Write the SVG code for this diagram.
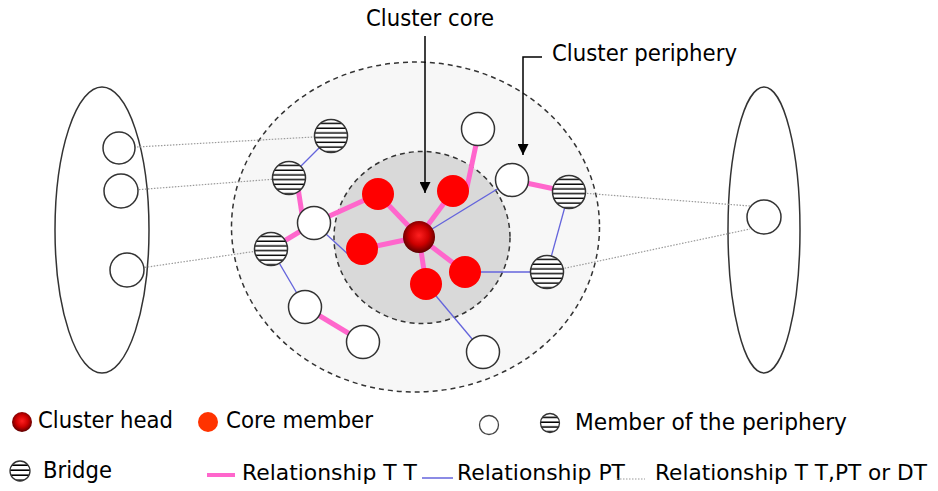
<svg xmlns="http://www.w3.org/2000/svg" width="938" height="491" viewBox="0 0 938 491">
  <style>
    .lbl { font-family: "DejaVu Sans", Verdana, sans-serif; font-size: 23px; fill: #000; }
    .lbl-s { font-family: "DejaVu Sans", Verdana, sans-serif; font-size: 22px; fill: #000; }
    .member { fill: #fff; stroke: #333; stroke-width: 1.5; }
    .bridge { fill: url(#stripes); stroke: #333; stroke-width: 1.5; }
    .bridge-s { fill: url(#stripesSmall); stroke: #333; stroke-width: 1.3; }
    .core { fill: #ff0000; }
    .head { fill: url(#headGrad); }
    .tt { stroke: #ff66cc; stroke-width: 5; stroke-linecap: butt; fill: none; }
    .pt { stroke: #6464dc; stroke-width: 1.3; fill: none; }
    .any { stroke: #9a9a9a; stroke-width: 1.2; stroke-dasharray: 1.5 1.5; fill: none; }
    .group { fill: #fff; stroke: #333; stroke-width: 1.5; }
    .pointer { stroke: #000; stroke-width: 1.5; fill: none; }
  </style>
  <defs>
    <pattern id="stripes" patternUnits="objectBoundingBox" patternContentUnits="objectBoundingBox" width="1" height="0.142857">
      <rect x="0" y="0" width="1" height="0.142857" fill="#fff"/>
      <rect x="0" y="0.1" width="1" height="0.045" fill="#000"/>
    </pattern>
    <pattern id="stripesSmall" patternUnits="objectBoundingBox" patternContentUnits="objectBoundingBox" width="1" height="0.25">
      <rect x="0" y="0" width="1" height="0.25" fill="#fff"/>
      <rect x="0" y="0.17" width="1" height="0.08" fill="#000"/>
    </pattern>
    <radialGradient id="headGrad" cx="0.5" cy="0.45" r="0.55">
      <stop offset="0" stop-color="#ff2020"/>
      <stop offset="0.55" stop-color="#cc0000"/>
      <stop offset="1" stop-color="#5a0000"/>
    </radialGradient>
    <marker id="arrow" viewBox="0 0 10 10" refX="10" refY="5" markerWidth="11" markerHeight="11" markerUnits="userSpaceOnUse" orient="auto">
      <path d="M0,0 L10,5 L0,10 Z" fill="#000"/>
    </marker>
  </defs>

  <!-- cluster regions -->
  <g id="periphery-zone">
    <ellipse cx="415.5" cy="227" rx="184" ry="165" fill="#f7f7f7" stroke="#333" stroke-width="1.5" stroke-dasharray="5 4"/>
  </g>
  <g id="core-zone">
    <ellipse cx="422" cy="237.5" rx="88" ry="86" fill="#d9d9d9" stroke="#333" stroke-width="1.5" stroke-dasharray="5 4"/>
  </g>

  <!-- neighbouring groups -->
  <g id="left-group">
    <ellipse class="group" cx="102" cy="230" rx="47" ry="143"/>
  </g>
  <g id="right-group">
    <ellipse class="group" cx="764" cy="230" rx="36" ry="143"/>
  </g>

  <!-- connectors -->
  <g id="connectors">
    <!-- relationship T T, PT or DT -->
    <line class="any" x1="119" y1="148" x2="331" y2="136"/>
    <line class="any" x1="121" y1="191" x2="289" y2="178"/>
    <line class="any" x1="127" y1="270" x2="271" y2="249"/>
    <line class="any" x1="569" y1="192" x2="750" y2="206"/>
    <line class="any" x1="547" y1="272" x2="750" y2="229"/>
    <!-- relationship PT -->
    <line class="pt" x1="331" y1="136" x2="289" y2="178"/>
    <line class="pt" x1="314" y1="223" x2="350" y2="256"/>
    <line class="pt" x1="419" y1="237" x2="512" y2="180"/>
    <line class="pt" x1="465" y1="272" x2="547" y2="272"/>
    <line class="pt" x1="569" y1="192" x2="547" y2="272"/>
    <line class="pt" x1="271" y1="249" x2="305" y2="307"/>
    <line class="pt" x1="426" y1="284" x2="483" y2="352"/>
    <!-- relationship T T -->
    <line class="tt" x1="477" y1="140" x2="466" y2="192"/>
    <line class="tt" x1="453" y1="191" x2="419" y2="237"/>
    <line class="tt" x1="378" y1="194" x2="419" y2="237"/>
    <line class="tt" x1="378" y1="194" x2="314" y2="223"/>
    <line class="tt" x1="362" y1="249" x2="419" y2="237"/>
    <line class="tt" x1="426" y1="284" x2="419" y2="237"/>
    <line class="tt" x1="465" y1="272" x2="419" y2="237"/>
    <line class="tt" x1="298" y1="188" x2="302" y2="214"/>
    <line class="tt" x1="314" y1="223" x2="271" y2="249"/>
    <line class="tt" x1="305" y1="307" x2="363" y2="342"/>
    <line class="tt" x1="512" y1="180" x2="569" y2="192"/>
    <!-- label pointers -->
    <line class="pointer" x1="425" y1="36" x2="425" y2="193" marker-end="url(#arrow)"/>
    <polyline class="pointer" points="542,57 523,57 523,155" marker-end="url(#arrow)"/>
  </g>

  <!-- nodes of neighbouring groups -->
  <g id="left-node-1"><circle class="member" cx="119" cy="148" r="16"/></g>
  <g id="left-node-2"><circle class="member" cx="121" cy="191" r="17"/></g>
  <g id="left-node-3"><circle class="member" cx="127" cy="270" r="17"/></g>
  <g id="right-node-1"><circle class="member" cx="764" cy="217" r="17"/></g>

  <!-- bridges -->
  <g id="bridge-1"><circle class="bridge" cx="331" cy="136" r="16.5"/></g>
  <g id="bridge-2"><circle class="bridge" cx="289" cy="178" r="16.5"/></g>
  <g id="bridge-3"><circle class="bridge" cx="271" cy="249" r="16.5"/></g>
  <g id="bridge-4"><circle class="bridge" cx="569" cy="192" r="16.5"/></g>
  <g id="bridge-5"><circle class="bridge" cx="547" cy="272" r="16.5"/></g>

  <!-- periphery members -->
  <g id="member-1"><circle class="member" cx="478" cy="129" r="16.5"/></g>
  <g id="member-2"><circle class="member" cx="512" cy="180" r="16.5"/></g>
  <g id="member-3"><circle class="member" cx="314" cy="223" r="16.5"/></g>
  <g id="member-4"><circle class="member" cx="305" cy="307" r="16.5"/></g>
  <g id="member-5"><circle class="member" cx="363" cy="342" r="16.5"/></g>
  <g id="member-6"><circle class="member" cx="483" cy="352" r="16.5"/></g>

  <!-- core members -->
  <g id="core-1"><circle class="core" cx="378" cy="194" r="16"/></g>
  <g id="core-2"><circle class="core" cx="453" cy="191" r="16"/></g>
  <g id="core-3"><circle class="core" cx="362" cy="249" r="16"/></g>
  <g id="core-4"><circle class="core" cx="426" cy="284" r="16"/></g>
  <g id="core-5"><circle class="core" cx="465" cy="272" r="16"/></g>

  <!-- cluster head -->
  <g id="cluster-head"><circle class="head" cx="419" cy="237" r="16"/></g>

  <!-- labels -->
  <g id="label-core"><text class="lbl" x="366" y="26" textLength="128" lengthAdjust="spacingAndGlyphs">Cluster core</text></g>
  <g id="label-periphery"><text class="lbl" x="552" y="61" textLength="185" lengthAdjust="spacingAndGlyphs">Cluster periphery</text></g>

  <!-- legend -->
  <g id="legend">
    <circle class="head" cx="22" cy="422" r="10"/>
    <text class="lbl" x="38" y="428" textLength="135" lengthAdjust="spacingAndGlyphs">Cluster head</text>
    <circle cx="208" cy="422" r="10" fill="#ff3300"/>
    <text class="lbl" x="226" y="428" textLength="147" lengthAdjust="spacingAndGlyphs">Core member</text>
    <circle cx="489" cy="425" r="9.5" fill="#fff" stroke="#444" stroke-width="1.3"/>
    <circle class="bridge-s" cx="550" cy="423" r="9.5"/>
    <text class="lbl" x="575" y="430" textLength="272" lengthAdjust="spacingAndGlyphs">Member of the periphery</text>
    <circle class="bridge-s" cx="20" cy="471" r="10"/>
    <text class="lbl" x="43" y="478" textLength="69" lengthAdjust="spacingAndGlyphs">Bridge</text>
    <line x1="207" y1="475" x2="235" y2="475" stroke="#ff66cc" stroke-width="4"/>
    <text class="lbl-s" x="242" y="480" textLength="175" lengthAdjust="spacingAndGlyphs">Relationship T T</text>
    <line x1="422" y1="478" x2="453" y2="478" stroke="#6464dc" stroke-width="1.5"/>
    <text class="lbl-s" x="457" y="480" textLength="168" lengthAdjust="spacingAndGlyphs">Relationship PT</text>
    <line class="any" x1="617" y1="479" x2="645" y2="479"/>
    <text class="lbl-s" x="655" y="480" textLength="272" lengthAdjust="spacingAndGlyphs">Relationship T T,PT or DT</text>
  </g>
</svg>
